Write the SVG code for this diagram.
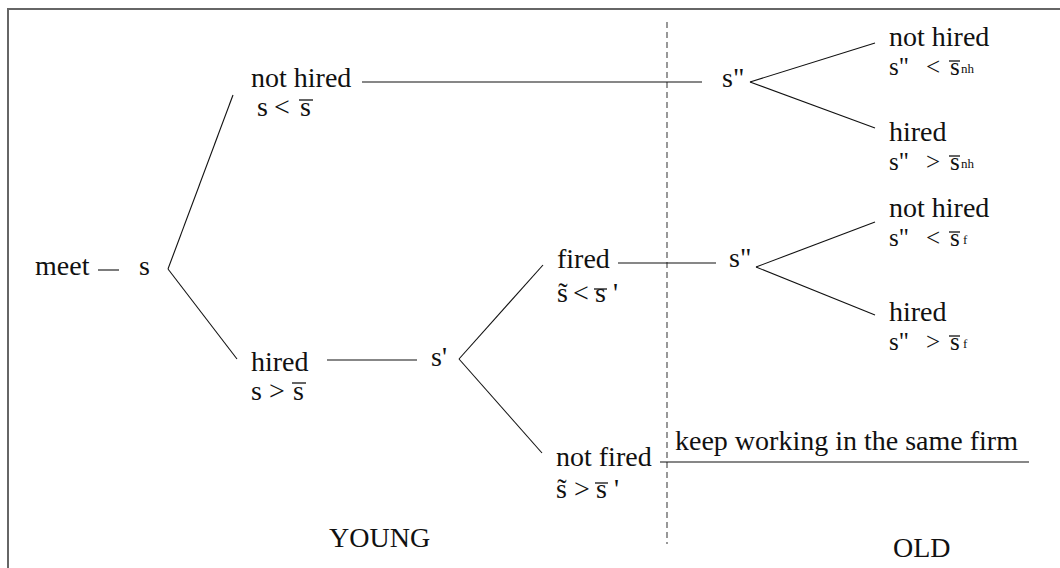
<svg xmlns="http://www.w3.org/2000/svg" width="1060" height="568" viewBox="0 0 1060 568">
<style>
text{font-family:"Liberation Serif","Times New Roman",serif;fill:#111;}
.t{font-size:28px;}
.r{font-size:25px;}
.sup{font-size:13px;}
.c{stroke:#111;stroke-width:1.1;fill:none;}
.bar{stroke:#111;stroke-width:1.3;}
.dash{stroke:#555;stroke-width:1.2;stroke-dasharray:6 4;fill:none;}
.frame{stroke:#666;stroke-width:2;fill:none;}
</style>
<rect width="1060" height="568" fill="#fff"/>
<path class="frame" d="M8,568 V9 H1060"/>
<line class="dash" x1="667" y1="22" x2="667" y2="544"/>
<g id="connectors">
<line class="c" x1="98" y1="270" x2="119" y2="270"/>
<line class="c" x1="168" y1="269" x2="233" y2="95"/>
<line class="c" x1="168" y1="269" x2="237" y2="359"/>
<line class="c" x1="362" y1="82" x2="702" y2="82"/>
<line class="c" x1="750" y1="82" x2="875" y2="43"/>
<line class="c" x1="750" y1="82" x2="875" y2="128"/>
<line class="c" x1="327" y1="360" x2="417" y2="360"/>
<line class="c" x1="459" y1="359" x2="543" y2="265"/>
<line class="c" x1="459" y1="359" x2="542" y2="453"/>
<line class="c" x1="618" y1="263" x2="716" y2="263"/>
<line class="c" x1="756" y1="267" x2="875" y2="222"/>
<line class="c" x1="756" y1="267" x2="875" y2="315"/>
<line class="c" x1="660" y1="462" x2="1029" y2="462"/>
</g>
<g id="meet"><text class="t" x="35" y="275">meet</text></g>
<g id="s"><text class="t" x="139" y="275">s</text></g>
<g id="young-not-hired">
<text class="t" x="251" y="87">not hired</text>
<text class="t" y="116"><tspan x="257">s</tspan><tspan x="274">&lt;</tspan><tspan x="300">s</tspan></text>
<line class="bar" x1="299" y1="100" x2="313" y2="100"/>
</g>
<g id="young-hired">
<text class="t" x="251" y="371">hired</text>
<text class="t" y="400"><tspan x="251">s</tspan><tspan x="269">&gt;</tspan><tspan x="293">s</tspan></text>
<line class="bar" x1="292" y1="383" x2="306" y2="383"/>
</g>
<g id="s-prime"><text class="t" x="431" y="366">s'</text></g>
<g id="fired">
<text class="t" x="557" y="268">fired</text>
<text class="t" y="302"><tspan x="557">s&#x303;</tspan><tspan x="573">&lt;</tspan><tspan x="595">s</tspan><tspan x="613">'</tspan></text>
<line class="bar" x1="594" y1="289" x2="607" y2="289"/>
</g>
<g id="not-fired">
<text class="t" x="556" y="466">not fired</text>
<text class="t" y="498"><tspan x="556">s&#x303;</tspan><tspan x="574">&gt;</tspan><tspan x="596">s</tspan><tspan x="614">'</tspan></text>
<line class="bar" x1="595" y1="483" x2="608" y2="483"/>
</g>
<g id="keep-working"><text class="t" x="675" y="450">keep working in the same firm</text></g>
<g id="s2-top"><text class="t" x="722" y="87">s"</text></g>
<g id="s2-bottom"><text class="t" x="729" y="267">s"</text></g>
<g id="old-nh-not-hired">
<text class="t" x="889" y="46">not hired</text>
<text class="r" y="75"><tspan x="889">s"</tspan><tspan x="926">&lt;</tspan><tspan x="950">s</tspan></text>
<line class="bar" x1="949" y1="61" x2="960" y2="61"/>
<text class="sup" x="961" y="73">nh</text>
</g>
<g id="old-nh-hired">
<text class="t" x="889" y="141">hired</text>
<text class="r" y="170"><tspan x="889">s"</tspan><tspan x="926">&gt;</tspan><tspan x="950">s</tspan></text>
<line class="bar" x1="949" y1="156" x2="960" y2="156"/>
<text class="sup" x="961" y="168">nh</text>
</g>
<g id="old-f-not-hired">
<text class="t" x="889" y="217">not hired</text>
<text class="r" y="246"><tspan x="889">s"</tspan><tspan x="926">&lt;</tspan><tspan x="950">s</tspan></text>
<line class="bar" x1="949" y1="232" x2="960" y2="232"/>
<text class="sup" x="963" y="244">f</text>
</g>
<g id="old-f-hired">
<text class="t" x="889" y="321">hired</text>
<text class="r" y="350"><tspan x="889">s"</tspan><tspan x="926">&gt;</tspan><tspan x="950">s</tspan></text>
<line class="bar" x1="949" y1="336" x2="960" y2="336"/>
<text class="sup" x="963" y="348">f</text>
</g>
<g id="young-label"><text class="t" x="329" y="547">YOUNG</text></g>
<g id="old-label"><text class="t" x="893" y="557">OLD</text></g>
</svg>
